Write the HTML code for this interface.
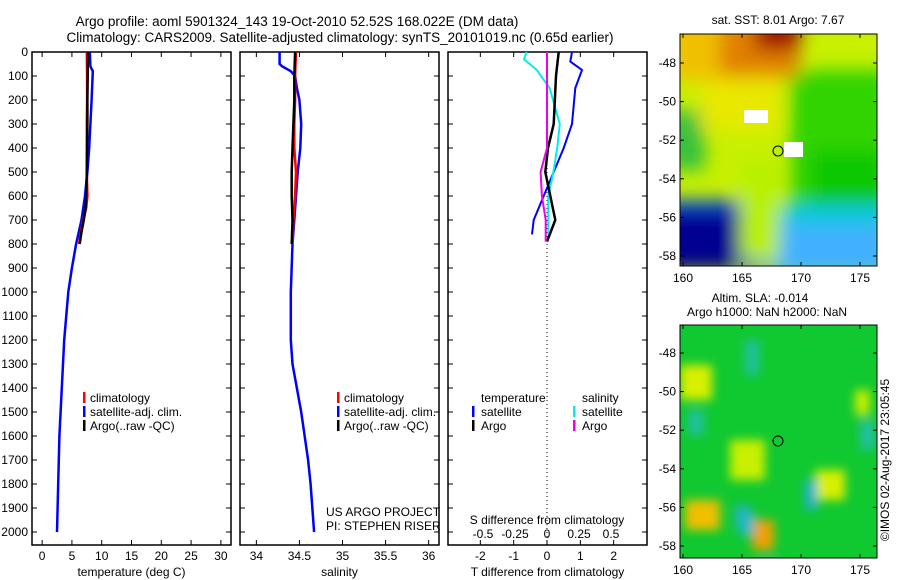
<!DOCTYPE html>
<html><head><meta charset="utf-8"><style>
body{margin:0;background:#fff;width:900px;height:580px;overflow:hidden}
svg{display:block;font-family:"Liberation Sans",sans-serif;font-size:12px}
</style></head><body>
<svg id="c" width="900" height="580" xmlns="http://www.w3.org/2000/svg">
<defs><filter id="bl" filterUnits="userSpaceOnUse" x="600" y="0" width="350" height="600"><feGaussianBlur stdDeviation="9"/></filter>
<filter id="bl2" filterUnits="userSpaceOnUse" x="600" y="0" width="350" height="600"><feGaussianBlur stdDeviation="5"/></filter>
<clipPath id="m1"><rect x="680" y="34" width="197" height="232"/></clipPath>
<clipPath id="m2"><rect x="680" y="325" width="197" height="233"/></clipPath></defs>
<text x="297" y="26" text-anchor="middle" font-size="13.5">Argo profile: aoml 5901324_143 19-Oct-2010 52.52S 168.022E (DM data)</text>
<text x="340" y="42" text-anchor="middle" font-size="13.5">Climatology: CARS2009. Satellite-adjusted climatology: synTS_20101019.nc (0.65d earlier)</text>
<g id="maps"></g>
<g id="plots"></g>
</svg>
<script>
// ---- data ----
const depthTicks=[0,100,200,300,400,500,600,700,800,900,1000,1100,1200,1300,1400,1500,1600,1700,1800,1900,2000];
const tempTicks=[0,5,10,15,20,25,30];
const salTicks=[34,34.5,35,35.5,36];
const tdiffTicks=[-2,-1,0,1,2];
const sdiffTicks=[-0.5,-0.25,0,0.25,0.5];
const sdiffLabels=["-0.5","-0.25","0","0.25","0.5"];
const tArgoDepth=[0,100,200,300,400,500,600,650,700,750,800];
const tArgoVals=[7.7,7.65,7.6,7.6,7.55,7.5,7.4,7.3,7.0,6.6,6.3];
const tClimVals=[7.5,7.55,7.55,7.5,7.5,7.5,7.6,7.4,6.9,6.5,6.2];
const tSatDepth=[0,60,80,200,400,500,600,700,800,900,1000,1200,1400,1600,1800,2000];
const tSatVals=[8.0,8.1,8.5,8.3,7.9,7.6,7.2,6.6,5.7,5.0,4.4,3.7,3.3,2.9,2.7,2.5];
const sArgoDepth=[0,100,200,300,400,500,600,700,800];
const sArgoVals=[34.45,34.44,34.44,34.43,34.42,34.41,34.41,34.42,34.41];
const sClimVals=[34.46,34.45,34.45,34.44,34.44,34.46,34.45,34.43,34.42];
const sSatDepth=[0,50,60,80,100,150,200,300,400,500,600,700,800,1000,1200,1300,1500,1700,1800,2000];
const sSatVals=[34.27,34.27,34.3,34.4,34.45,34.47,34.5,34.52,34.51,34.48,34.46,34.44,34.42,34.4,34.4,34.42,34.52,34.6,34.63,34.67];
const dTSatDepth=[0,40,75,150,300,400,500,600,700,760];
const dTSatVals=[0.75,0.7,1.05,0.85,0.75,0.5,0.2,-0.1,-0.4,-0.45];
const dTArgoDepth=[0,100,300,400,500,600,700,790];
const dTArgoVals=[0.35,0.27,0.2,0.03,-0.05,0.1,0.25,0.0];
const dSSatDepth=[0,30,75,150,300,400,500,600,700,760];
const dSSatVals=[-0.16,-0.18,-0.08,0.02,0.1,0.08,0.05,0.01,0.01,0.01];
const dSArgoDepth=[0,100,200,300,400,500,600,700,790];
const dSArgoVals=[0.0,0.0,0.0,0.0,0.0,-0.05,-0.04,-0.01,-0.01];
const lonTicks=[160,165,170,175];
const latTicks=[-48,-50,-52,-54,-56,-58];

const NS="http://www.w3.org/2000/svg";
const P=document.getElementById('plots');
function el(t,a,par){const e=document.createElementNS(NS,t);for(const k in a)e.setAttribute(k,a[k]);(par||P).appendChild(e);return e;}
const yD=d=>52+d*0.24;
const panels=[{x0:32,x1:231,lo:-1.7,hi:31.7,ticks:tempTicks,labs:tempTicks,label:"temperature (deg C)",name:'temperature'},
{x0:240,x1:439,lo:33.81,hi:36.12,ticks:salTicks,labs:salTicks,label:"salinity",name:'salinity'},
{x0:448,x1:647,lo:-2.97,hi:3.0,ticks:tdiffTicks,labs:tdiffTicks,label:"T difference from climatology",name:'difference'}];
panels.forEach((p,i)=>{
 p.sx=v=>p.x0+(v-p.lo)/(p.hi-p.lo)*(p.x1-p.x0);
 const r=el('rect',{x:p.x0,y:52,width:p.x1-p.x0,height:493,fill:'none',stroke:'#000','stroke-width':1.5});
 
 depthTicks.forEach(d=>{el('line',{x1:p.x0,x2:p.x0+5,y1:yD(d),y2:yD(d),stroke:'#000'});el('line',{x1:p.x1,x2:p.x1-5,y1:yD(d),y2:yD(d),stroke:'#000'});
  if(i==0){const t=el('text',{x:28,y:yD(d)+4,'text-anchor':'end'});t.textContent=d;}});
 p.ticks.forEach((v,j)=>{const x=p.sx(v);el('line',{x1:x,x2:x,y1:545,y2:540,stroke:'#000'});el('line',{x1:x,x2:x,y1:52,y2:57,stroke:'#000'});
  const t=el('text',{x:x,y:560,'text-anchor':'middle'});t.textContent=p.labs[j];});
 const t=el('text',{x:(p.x0+p.x1)/2,y:576,'text-anchor':'middle'});t.textContent=p.label;
});
const p3=panels[2];const sxS=v=>547+v*128;
el('line',{x1:547,x2:547,y1:52,y2:545,stroke:'#000','stroke-dasharray':'1 3'});
sdiffTicks.forEach((v,j)=>{const t=el('text',{x:sxS(v),y:538,'text-anchor':'middle'});t.textContent=sdiffLabels[j];});
{const t=el('text',{x:547,y:524,'text-anchor':'middle'});t.textContent="S difference from climatology";}
function line(ds,vs,sx,col,w,name){const pts=ds.map((d,i)=>sx(vs[i]).toFixed(1)+','+yD(d).toFixed(1)).join(' ');
 const e=el('polyline',{points:pts,fill:'none',stroke:col,'stroke-width':w});}
const p1=panels[0],p2=panels[1];
line(tSatDepth,tSatVals,p1.sx,'#00f',2.5,'temp-satellite-line');
line(tArgoDepth,tClimVals,p1.sx,'#f00',2.5,'temp-climatology-line');
line(tArgoDepth,tArgoVals,p1.sx,'#000',2.5,'temp-argo-line');
line(sSatDepth,sSatVals,p2.sx,'#00f',2.5,'sal-satellite-line');
line(sArgoDepth,sClimVals,p2.sx,'#f00',2.5,'sal-climatology-line');
line(sArgoDepth,sArgoVals,p2.sx,'#000',2.5,'sal-argo-line');
line(dTSatDepth,dTSatVals,p3.sx,'#00f',2,'tdiff-satellite-line');
line(dSSatDepth,dSSatVals,sxS,'#0ee',2,'sdiff-satellite-line');
line(dTArgoDepth,dTArgoVals,p3.sx,'#000',2.5,'tdiff-argo-line');
line(dSArgoDepth,dSArgoVals,sxS,'#e0e',2,'sdiff-argo-line');
function txt(x,y,s,name,extra){const t=el('text',Object.assign({x:x,y:y},extra||{}));t.textContent=s;return t;}
function mark(x,y,c){el('rect',{x:x,y:y-10,width:2.5,height:11,fill:c});}
[[83,'climatology','#f00'],[83,'satellite-adj. clim.','#00f'],[83,"Argo(..raw -QC)",'#000']].forEach((a,i)=>{mark(a[0],402+i*14,a[2]);txt(a[0]+7,402+i*14,a[1],'temp-legend-entry');});
[[337,'climatology','#f00'],[337,'satellite-adj. clim.','#00f'],[337,"Argo(..raw -QC)",'#000']].forEach((a,i)=>{mark(a[0],402+i*14,a[2]);txt(a[0]+7,402+i*14,a[1],'sal-legend-entry');});
txt(481,402,'temperature','diff-legend-header');txt(582,402,'salinity','diff-legend-header');
mark(472,416,'#00f');txt(481,416,'satellite','diff-legend-entry');mark(472,430,'#000');txt(481,430,'Argo','diff-legend-entry');
mark(573,416,'#0ee');txt(582,416,'satellite','diff-legend-entry');mark(573,430,'#e0e');txt(582,430,'Argo','diff-legend-entry');
txt(326,516,'US ARGO PROJECT','project-label');txt(326,530,'PI: STEPHEN RISER','pi-label');

// ---- maps ----
const M=document.getElementById('maps');
function mel(t,a,par){return el(t,a,par||M);}
function mapAxes(y0,y1,lat48,lat58,name){
 const r=mel('rect',{x:680,y:y0,width:197,height:y1-y0,fill:'none',stroke:'#000'});
 const ly=l=>lat48+(l+48)/(-10)*(lat58-lat48);const lx=l=>683+(l-160)/15*177;
 latTicks.forEach(l=>{const y=ly(l);mel('line',{x1:680,x2:684,y1:y,y2:y,stroke:'#000'});mel('line',{x1:877,x2:873,y1:y,y2:y,stroke:'#000'});
  const t=mel('text',{x:676,y:y+4,'text-anchor':'end'});t.textContent=l;});
 lonTicks.forEach(l=>{const x=lx(l);mel('line',{x1:x,x2:x,y1:y1,y2:y1-4,stroke:'#000'});mel('line',{x1:x,x2:x,y1:y0,y2:y0+4,stroke:'#000'});
  const t=mel('text',{x:x,y:y1+16,'text-anchor':'middle'});t.textContent=l;});
 return {lx,ly};
}
// map1 SST
let g=mel('g',{'clip-path':'url(#m1)'});
mel('rect',{x:680,y:34,width:197,height:232,fill:'#c8f000'},g);
let gb=mel('g',{filter:'url(#bl)'},g);
[['#30d400',790,70,100,150],['#10c800',810,150,80,100],['#30c040',670,110,35,60],['#e8e800',700,80,80,50],['#f0c000',670,20,120,60],['#e08000',720,20,80,55],['#a00000',755,20,45,30],['#00c8e0',670,205,220,40],['#40b0ff',770,225,120,50],['#0050e0',665,200,100,70],['#000090',660,210,80,60],['#b8f000',740,160,40,100]].forEach(a=>mel('rect',{x:a[1],y:a[2],width:a[3],height:a[4],fill:a[0]},gb));
mel('rect',{x:744,y:110,width:24,height:13,fill:'#fff'},g);mel('rect',{x:784,y:142,width:19,height:15,fill:'#fff'},g);
mel('circle',{cx:778,cy:151,r:5,fill:'none',stroke:'#000'},g);
mapAxes(34,266,63,256,'sst-map-frame');
let t=mel('text',{x:778,y:24,'text-anchor':'middle'});t.textContent='sat. SST: 8.01 Argo: 7.67';
// map2 SLA
g=mel('g',{'clip-path':'url(#m2)'});
mel('rect',{x:680,y:325,width:197,height:233,fill:'#10c830'},g);
gb=mel('g',{filter:'url(#bl2)'},g);
[['#d8f000',680,365,32,35],['#c8f000',730,440,35,40],['#c8f000',855,390,15,25],['#d8f000',815,470,30,30],['#f0c000',685,500,35,30],['#f0a000',752,520,22,30],['#20c0a0',745,340,14,35],['#20b0c0',735,505,14,22],['#20b0d0',805,480,12,30],['#20b8c0',738,510,16,25],['#20c0a0',688,410,16,25],['#20c0a0',860,420,15,30],['#20c0a0',760,560,20,20]].forEach(a=>mel('rect',{x:a[1],y:a[2],width:a[3],height:a[4],fill:a[0]},gb));
mel('circle',{cx:778,cy:441,r:5,fill:'none',stroke:'#000'},g);
mapAxes(325,558,353,546,'sla-map-frame');
t=mel('text',{x:760,y:302,'text-anchor':'middle'});t.textContent='Altim. SLA: -0.014';
t=mel('text',{x:767,y:316,'text-anchor':'middle'});t.textContent='Argo h1000: NaN h2000: NaN';
t=mel('text',{x:0,y:0,'text-anchor':'middle',transform:'translate(889,460) rotate(-90)'});t.textContent='©IMOS 02-Aug-2017 23:05:45';
</script>
</body></html>
